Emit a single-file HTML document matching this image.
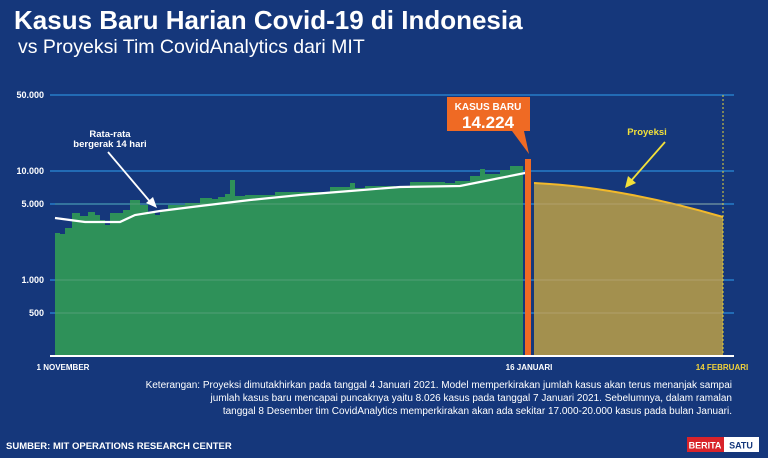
<!DOCTYPE html>
<html><head><meta charset="utf-8"><style>
html,body{margin:0;padding:0;}
body{width:768px;height:458px;background:#15377b;font-family:"Liberation Sans",sans-serif;overflow:hidden;position:relative;}
.t{position:absolute;color:#fff;white-space:nowrap;}
</style></head><body>
<div class="t" style="left:14px;top:5px;font-size:26px;font-weight:bold;">Kasus Baru Harian Covid-19 di Indonesia</div>
<div class="t" style="left:18px;top:36px;font-size:19.5px;">vs Proyeksi Tim CovidAnalytics dari MIT</div>
<svg width="768" height="458" style="position:absolute;left:0;top:0" xmlns="http://www.w3.org/2000/svg">
<g font-family="Liberation Sans" font-weight="bold" font-size="9" fill="#fff" text-anchor="end">
<text x="44" y="98">50.000</text><text x="44" y="174">10.000</text><text x="44" y="207">5.000</text><text x="44" y="283">1.000</text><text x="44" y="316">500</text>
</g>
<g stroke="#2a8ad8" stroke-width="1.2">
<line x1="50" y1="95" x2="734" y2="95"/><line x1="50" y1="171" x2="734" y2="171"/><line x1="50" y1="204" x2="734" y2="204"/><line x1="50" y1="280" x2="734" y2="280"/><line x1="50" y1="313" x2="734" y2="313"/>
</g>
<polygon fill="#2e9159" points="55,356 55,233 60,233 60,234 65,234 65,228 72,228 72,213 80,213 80,216 88,216 88,212 95,212 95,215 100,215 100,220 105,220 105,225 110,225 110,213 123,213 123,210 130,210 130,200 140,200 140,205 148,205 148,213 155,213 155,215 160,215 160,210 168,210 168,205 185,205 185,203 200,203 200,198 212,198 212,199 218,199 218,197 225,197 225,194 230,194 230,180 235,180 235,196 245,196 245,195 275,195 275,192 330,192 330,187 350,187 350,183 355,183 355,188 365,188 365,186 395,186 395,188 410,188 410,182 445,182 445,183 455,183 455,181 470,181 470,176 480,176 480,169 485,169 485,174 500,174 500,170 510,170 510,166 523,166 523,356"/>
<g stroke="#6aa88a" stroke-width="1" opacity="0.6">
<line x1="55" y1="204" x2="523" y2="204"/><line x1="55" y1="280" x2="523" y2="280"/><line x1="55" y1="313" x2="523" y2="313"/>
</g>
<polyline fill="none" stroke="#fff" stroke-width="2.2" points="55,218 70,220 85,222 120,222 135,215 160,211 200,206 250,200 300,195 350,191 400,187 460,186 480,182 500,178 515,175 530,172"/>
<path d="M534,183 Q620,187 723,217 L723,356 L534,356 Z" fill="#a3904e"/>
<path d="M534,183 Q620,187 723,217" fill="none" stroke="#f2b92b" stroke-width="2"/>
<g stroke="#b6a77a" stroke-width="1" opacity="0.7">
<line x1="534" y1="204" x2="723" y2="204"/><line x1="534" y1="280" x2="723" y2="280"/><line x1="534" y1="313" x2="723" y2="313"/>
</g>
<line x1="723" y1="95" x2="723" y2="356" stroke="#e7d43a" stroke-width="1" stroke-dasharray="2,2"/>
<rect x="525" y="159" width="6" height="197" fill="#ef6a24"/>
<rect x="447" y="97" width="83" height="34" fill="#ef6a24"/>
<polygon points="512,131 524,131 529,154" fill="#ef6a24"/>
<text x="488" y="110" font-size="10" font-weight="bold" fill="#fff" text-anchor="middle">KASUS BARU</text>
<text x="488" y="128" font-size="17" font-weight="bold" fill="#fff" text-anchor="middle">14.224</text>
<line x1="50" y1="356" x2="734" y2="356" stroke="#fff" stroke-width="2"/>
<g font-size="8" font-weight="bold" text-anchor="middle">
<text x="63" y="370" fill="#fff">1 NOVEMBER</text>
<text x="529" y="370" fill="#fff">16 JANUARI</text>
<text x="722" y="370" fill="#f2d23a">14 FEBRUARI</text>
</g>
<text x="110" y="137" font-size="9.5" font-weight="bold" fill="#fff" text-anchor="middle">Rata-rata</text>
<text x="110" y="147" font-size="9.5" font-weight="bold" fill="#fff" text-anchor="middle">bergerak 14 hari</text>
<line x1="108" y1="152" x2="152" y2="204" stroke="#fff" stroke-width="1.8"/>
<polygon points="157,208 146,203 153,197" fill="#fff"/>
<text x="647" y="135" font-size="9.5" font-weight="bold" fill="#f2e03a" text-anchor="middle">Proyeksi</text>
<line x1="665" y1="142" x2="630" y2="182" stroke="#f2e03a" stroke-width="1.8"/>
<polygon points="625,188 628,176 636,183" fill="#f2e03a"/>
<g font-size="10" fill="#fff" text-anchor="end">
<text x="732" y="388">Keterangan: Proyeksi dimutakhirkan pada tanggal 4 Januari 2021. Model memperkirakan jumlah kasus akan terus menanjak sampai</text>
<text x="732" y="401">jumlah kasus baru mencapai puncaknya yaitu 8.026 kasus pada tanggal 7 Januari 2021. Sebelumnya, dalam ramalan</text>
<text x="732" y="414">tanggal 8 Desember tim CovidAnalytics memperkirakan akan ada sekitar 17.000-20.000 kasus  pada bulan Januari.</text>
</g>
<text x="6" y="449" font-size="9.5" font-weight="bold" fill="#fff">SUMBER: MIT OPERATIONS RESEARCH CENTER</text>
<rect x="687" y="437" width="37" height="15" fill="#d8232a"/>
<rect x="724" y="437" width="35" height="15" fill="#fff"/>
<text x="705" y="448.5" font-size="9" font-weight="bold" fill="#fff" text-anchor="middle">BERITA</text>
<text x="741" y="448.5" font-size="9" font-weight="bold" fill="#15377b" text-anchor="middle">SATU</text>
</svg>
</body></html>
